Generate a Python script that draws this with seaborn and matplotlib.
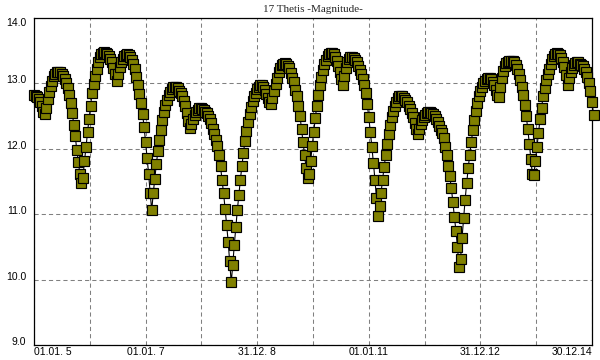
import matplotlib
matplotlib.use("Agg")
import matplotlib.pyplot as plt
import matplotlib.dates as mdates
import numpy as np
import pandas as pd
import seaborn as sns

# Magnitude of 17 Thetis, one value every 10 days from 01.01.2005
START_DATE = "2005-01-01"
END_DATE = "2014-12-30"
STEP_DAYS = 10

MAG_2005 = [12.82, 12.81, 12.79, 12.76, 12.72, 12.66, 12.57, 12.53, 12.63, 12.76,
            12.87, 12.96, 13.04, 13.11, 13.15, 13.17, 13.18, 13.17, 13.15, 13.11,
            13.07, 13.01, 12.93, 12.83, 12.70, 12.55, 12.37, 12.19, 11.98, 11.80,
            11.62, 11.47]
MAG_2006 = [11.56, 11.81, 12.02, 12.25, 12.46, 12.66, 12.85, 12.99, 13.11, 13.22,
            13.32, 13.40, 13.45, 13.47, 13.48, 13.47, 13.45, 13.42, 13.38, 13.32,
            13.24, 13.14, 13.04, 13.15, 13.25, 13.33, 13.38, 13.42, 13.44, 13.45,
            13.44, 13.41, 13.36, 13.30, 13.22, 13.10, 12.97, 12.84, 12.70, 12.53,
            12.34, 12.10, 11.86, 11.61, 11.32, 11.06]
MAG_2007 = [11.32, 11.54, 11.76, 11.96, 12.14, 12.29, 12.44, 12.57, 12.67, 12.75,
            12.82, 12.87, 12.91, 12.94, 12.95, 12.95, 12.93, 12.89, 12.85, 12.80,
            12.73, 12.65, 12.55, 12.43, 12.32, 12.38, 12.45, 12.52, 12.57, 12.60,
            12.62, 12.62, 12.61, 12.59, 12.57, 12.54, 12.50, 12.45, 12.39, 12.31,
            12.23, 12.14, 12.04, 11.90, 11.73, 11.52, 11.32, 11.08, 10.84, 10.58,
            10.28, 9.96]
MAG_2008 = [10.22, 10.53, 10.80, 11.06, 11.30, 11.53, 11.74, 11.94, 12.12, 12.27,
            12.41, 12.53, 12.64, 12.73, 12.80, 12.86, 12.91, 12.95, 12.97, 12.97,
            12.95, 12.90, 12.84, 12.77, 12.71, 12.69, 12.78, 12.88, 12.99, 13.09,
            13.17, 13.23, 13.28, 13.30, 13.31, 13.30, 13.27, 13.23, 13.16, 13.08,
            13.02, 12.90, 12.80, 12.66, 12.50, 12.30, 12.10, 11.90, 11.70, 11.56]
MAG_2010 = [11.62, 11.82, 12.05, 12.26, 12.47, 12.66, 12.83, 12.98, 13.10, 13.20,
            13.29, 13.36, 13.42, 13.45, 13.47, 13.47, 13.45, 13.41, 13.35, 13.27,
            13.17, 13.07, 12.98, 13.12, 13.24, 13.32, 13.37, 13.40, 13.40, 13.39,
            13.36, 13.32, 13.27, 13.21, 13.14, 13.06, 12.97, 12.85, 12.68, 12.48,
            12.26, 12.03, 11.79, 11.53, 11.25, 10.97]
MAG_2011 = [11.12, 11.33, 11.53, 11.72, 11.90, 12.07, 12.22, 12.36, 12.48, 12.58,
            12.66, 12.72, 12.77, 12.80, 12.81, 12.80, 12.78, 12.75, 12.71, 12.66,
            12.61, 12.55, 12.48, 12.40, 12.30, 12.22, 12.30, 12.38, 12.44, 12.49,
            12.52, 12.55, 12.56, 12.56, 12.55, 12.53, 12.50, 12.46, 12.41, 12.35,
            12.29, 12.24, 12.16, 12.03, 11.91, 11.74, 11.58, 11.40, 11.18, 10.96,
            10.74, 10.50, 10.19]
MAG_2012 = [10.31, 10.64, 10.94, 11.22, 11.47, 11.70, 11.91, 12.10, 12.28, 12.44,
            12.58, 12.70, 12.80, 12.88, 12.95, 13.00, 13.04, 13.07, 13.08, 13.08,
            13.06, 13.02, 12.97, 12.90, 12.83, 12.79, 12.95, 13.09, 13.19, 13.26,
            13.31, 13.33, 13.35, 13.35, 13.34, 13.32, 13.28, 13.22, 13.15, 13.05,
            12.95, 12.82, 12.67, 12.50, 12.30, 12.08, 11.84, 11.61]
MAG_2013 = [11.60, 11.82, 12.03, 12.24, 12.45, 12.63, 12.80, 12.93, 13.05, 13.14,
            13.22, 13.30, 13.37, 13.42, 13.45, 13.46, 13.45, 13.43, 13.39, 13.33,
            13.25, 13.13, 12.98, 13.08, 13.17, 13.24, 13.28, 13.31, 13.32, 13.32,
            13.30, 13.28, 13.26, 13.22, 13.17, 13.10, 13.00, 12.88, 12.72, 12.52]

XTICK_LABELS = ["01.01. 5", "01.01. 7", "31.12. 8", "01.01.11", "31.12.12", "30.12.14"]
YTICKS = [9, 10, 11, 12, 13, 14]
YTICK_LABELS = ["9.0", "10.0", "11.0", "12.0", "13.0", "14.0"]
TITLE = "17 Thetis -Magnitude-"

mag = MAG_2005 + MAG_2006 + MAG_2007 + MAG_2008 + MAG_2010 + MAG_2011 + MAG_2012 + MAG_2013
dates = pd.date_range(START_DATE, periods=len(mag), freq=f"{STEP_DAYS}D")
df = pd.DataFrame({"date": dates, "mag": mag})

sns.set_style("white")
plt.rcParams["font.family"] = ["Liberation Sans", "DejaVu Sans"]
plt.rcParams["lines.scale_dashes"] = False

fig = plt.figure(figsize=(6, 3.6), dpi=100)
ax = fig.add_axes([34 / 600, 15 / 360, 558 / 600, 327 / 360])

sns.lineplot(data=df, x="date", y="mag", ax=ax, color="black", linewidth=0.8,
             marker="s", markersize=6.6, markerfacecolor="#808000",
             markeredgecolor="black", markeredgewidth=0.85, zorder=3)
for ln in ax.lines:
    ln.set_clip_on(False)

x0 = mdates.date2num(pd.Timestamp(START_DATE))
x1 = mdates.date2num(pd.Timestamp(END_DATE))
ax.set_xlim(x0, x1)
ax.set_ylim(9, 14)

ax.set_xticks(np.linspace(x0, x1, len(XTICK_LABELS)))
ax.set_xticklabels(XTICK_LABELS)
ax.set_xticks(np.linspace(x0, x1, 11), minor=True)
ax.set_yticks(YTICKS)
ax.set_yticklabels(YTICK_LABELS)

grid_kw = dict(color="#808080", linewidth=0.75, linestyle=(0, (3, 2.2)))
ax.grid(True, which="both", axis="x", **grid_kw)
ax.grid(True, which="major", axis="y", **grid_kw)
ax.set_axisbelow(True)

ax.tick_params(axis="both", which="both", length=0, labelsize=7.5, colors="black")
ax.tick_params(axis="x", pad=1.5)
ax.tick_params(axis="y", pad=5.5)

xl = ax.get_xticklabels()
xl[0].set_ha("left")
xl[-1].set_ha("right")
yl = ax.get_yticklabels()
for lab in yl[:-1]:
    lab.set_va("baseline")
yl[-1].set_va("top")

for sp in ax.spines.values():
    sp.set_color("black")
    sp.set_linewidth(0.9)

ax.set_xlabel("")
ax.set_ylabel("")
ax.set_title(TITLE, fontfamily="Liberation Serif", fontsize=8, pad=4)

fig.savefig("out.png", dpi=100, facecolor="white")
